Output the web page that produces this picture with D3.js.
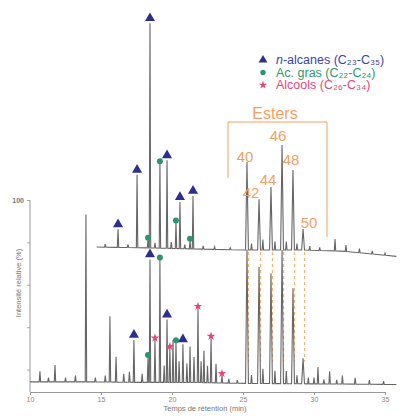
<!DOCTYPE html>
<html>
<head>
<meta charset="utf-8">
<script src="https://cdn.jsdelivr.net/npm/d3@7"></script>
<style>
  body { margin: 0; background: #fff; }
  text { font-family: "Liberation Sans", Arial, sans-serif; }
</style>
</head>
<body>
<div id="chart"></div>
<script>
// chromatogram, two traces (upper = sample, lower = reference)

// x ticks (min)
var timeTicks = [10, 15, 20, 25, 30, 35];
var intensityTicks = [20, 40, 60, 80, 100];

// baselines [time, level]
var upperBase = [[14.7, 77.8], [18.4, 77.4], [25, 76.4], [29.2, 76.4], [32, 75.9], [35.8, 73.4]];
var lowerBase = [[10, 14.2], [15, 14.2], [17, 14.0], [22, 13.9], [25, 13.5], [35.8, 13.0]];

// peaks [time, height, type, halfwidth]
var upperPeaks = [
  [15.3, 1.5, ""], [16.2, 8.5, "alk"], [16.9, 1.5, ""], [17.54, 34.4, "alk"],
  [18.31, 3.8, "acid"], [18.45, 106, "alk"], [18.8, 2.5, ""], [19.15, 40, "acid"],
  [19.65, 41.5, "alk"], [19.95, 3, ""], [20.28, 12.3, "acid"], [20.56, 22, "alk"],
  [20.9, 2, ""], [21.27, 3.8, "acid"], [21.48, 25, "alk"], [22.2, 1.5, ""],
  [23, 1.2, ""], [24.1, 1, ""],
  [25.28, 41.5, "ester", 0.1], [25.6, 3, ""], [26.13, 24, "ester", 0.1], [26.4, 5, ""],
  [26.97, 29.7, "ester", 0.1], [27.25, 4, ""], [27.75, 49.5, "ester", 0.1], [28.05, 4, ""],
  [28.52, 37.7, "ester", 0.1], [28.8, 3, ""], [29.23, 9.9, "ester", 0.1], [29.7, 2, ""],
  [30.4, 1.5, ""], [31.48, 5.6, ""], [32.25, 3, ""], [33.2, 2, ""], [34.1, 1.5, ""], [35, 1, ""]
];

var lowerPeaks = [
  [10.7, 5, ""], [11.3, 2, ""], [11.76, 8, ""], [12.5, 2, ""], [13.2, 3, ""],
  [13.94, 79, ""], [14.6, 2, ""], [15.3, 3, ""], [15.63, 31, ""], [16.06, 12, ""],
  [16.6, 4, ""], [17.0, 5, ""], [17.32, 20, "alk"], [17.9, 4, ""], [18.31, 12, "acid"],
  [18.45, 58, "alk"], [18.8, 20, "alc"], [19.15, 58, "acid"], [19.45, 8, ""],
  [19.65, 29.7, "alk"], [19.85, 16, "alc"], [20.07, 20, ""], [20.28, 19, "acid"],
  [20.5, 10, ""], [20.77, 18, "alk"], [21.05, 9, ""], [21.27, 17, ""], [21.55, 12, ""],
  [21.83, 35, "alc"], [22.05, 10, ""], [22.25, 15, ""], [22.5, 8, ""], [22.75, 21, "alc"],
  [23.1, 9, ""], [23.52, 3.5, "alc"], [24.0, 2, ""], [24.6, 1.5, ""],
  [25.28, 63, "ester", 0.1], [25.6, 4, ""], [26.13, 55, "ester", 0.1], [26.4, 7, ""],
  [26.97, 52, "ester", 0.1], [27.25, 6, ""], [27.75, 63, "ester", 0.1], [28.05, 6, ""],
  [28.52, 45, "ester", 0.1], [28.8, 4, ""], [29.23, 12, "ester", 0.1], [29.6, 3, ""],
  [30.0, 3, ""], [30.28, 8, ""], [30.7, 2, ""], [31.1, 6, ""], [31.6, 2, ""],
  [32.0, 4, ""], [32.9, 3, ""], [33.9, 2, ""], [34.9, 1.5, ""]
];

// ester labels: carbon number and label position
var esterNames = ["40", "42", "44", "46", "48", "50"];
var esterLabelPos = [[245, 162], [251, 198], [268, 185], [278, 141], [291, 165], [309, 228]];

var legendItems = [
  {type: "alk", it: "n", label: "-alcanes (C₂₃-C₃₅)"},
  {type: "acid", it: "", label: "Ac. gras (C₂₂-C₂₄)"},
  {type: "alc", it: "", label: "Alcools (C₂₆-C₃₄)"}
];

var colors = {alk: "#2c2f8c", acid: "#2e9470", alc: "#e5457a", ester: "#f2a164", trace: "#666"};
var textColors = {alk: "#3a44a8", acid: "#2e9a6e", alc: "#e8457a"};

var W = 401, H = 416;
var svg = d3.select("#chart").append("svg").attr("width", W).attr("height", H);

var xScale = d3.scaleLinear().domain([10, 35]).range([30, 385]);
var yScale = d3.scaleLinear().domain([0, 100]).range([412, 200]);

function baseScale(arr) {
  return d3.scaleLinear().domain(arr.map(function(d) { return d[0]; }))
    .range(arr.map(function(d) { return d[1]; })).clamp(true);
}
var upB = baseScale(upperBase), loB = baseScale(lowerBase);

function tracePoints(peaks, base, t0, t1) {
  var pts = [[t0, base(t0)]];
  peaks.slice().sort(function(a, b) { return a[0] - b[0]; }).forEach(function(p) {
    var w = p[3] || 0.05;
    pts.push([p[0] - w, base(p[0] - w)], [p[0], base(p[0]) + p[1]], [p[0] + w, base(p[0] + w)]);
  });
  pts.push([t1, base(t1)]);
  return pts;
}

var line = d3.line()
  .x(function(d) { return xScale(d[0]); })
  .y(function(d) { return yScale(d[1]); });

// axes
var xAxis = d3.axisBottom(xScale).tickValues(timeTicks).tickSize(3).tickPadding(2);
var gx = svg.append("g").attr("transform", "translate(0,392)").call(xAxis);
gx.select(".domain").attr("stroke", "#999");
gx.selectAll(".tick line").attr("stroke", "#999");
gx.selectAll("text").attr("font-size", 7).attr("fill", "#888");

var yAxis = d3.axisLeft(yScale).tickValues(intensityTicks).tickSize(3)
  .tickFormat(function(d) { return d === 100 ? "100" : ""; });
var gy = svg.append("g").attr("transform", "translate(30,0)").call(yAxis);
gy.select(".domain").remove();
gy.selectAll(".tick line").attr("stroke", "#aaa");
gy.selectAll("text").attr("font-size", 7).attr("fill", "#777").attr("font-weight", "bold");
svg.append("line").attr("x1", 30).attr("x2", 30).attr("y1", yScale(100)).attr("y2", 392)
  .attr("stroke", "#999");

svg.append("text").attr("x", 205).attr("y", 411).attr("text-anchor", "middle")
  .attr("font-size", 7.5).attr("fill", "#777").text("Temps de rétention (min)");
svg.append("text").attr("transform", "translate(21,283) rotate(-90)").attr("text-anchor", "middle")
  .attr("font-size", 7.5).attr("fill", "#777").text("Intensité relative (%)");

// dashed ester guides
var esters = upperPeaks.filter(function(p) { return p[2] === "ester"; });
svg.selectAll("line.guide").data(esters).enter().append("line")
  .attr("class", "guide")
  .attr("x1", function(d) { return xScale(d[0]) + 1.5; })
  .attr("x2", function(d) { return xScale(d[0]) + 1.5; })
  .attr("y1", function(d) { return yScale(upB(d[0])) + 2; })
  .attr("y2", function(d) { return yScale(loB(d[0])) - 22; })
  .attr("stroke", "#f5b07a").attr("stroke-width", 1.2).attr("stroke-dasharray", "3,3");

// traces
svg.append("path").datum(tracePoints(lowerPeaks, loB, 10, 35.8))
  .attr("d", line).attr("fill", "none").attr("stroke", colors.trace).attr("stroke-width", 1.1);
svg.append("path").datum(tracePoints(upperPeaks, upB, 14.7, 35.8))
  .attr("d", line).attr("fill", "none").attr("stroke", colors.trace).attr("stroke-width", 1.1);

// markers
function drawMarkers(peaks, base) {
  var marked = peaks.filter(function(p) { return p[2] && p[2] !== "ester"; });
  svg.selectAll(null).data(marked).enter().append("path")
    .attr("transform", function(d) {
      var off = d[2] === "alk" ? 5 : 2;
      return "translate(" + xScale(d[0]) + "," + (yScale(base(d[0]) + d[1]) - off) + ")";
    })
    .attr("d", function(d) {
      if (d[2] === "alk") return d3.symbol(d3.symbolTriangle, 44)();
      if (d[2] === "acid") return d3.symbol(d3.symbolCircle, 28)();
      return d3.symbol(d3.symbolStar, 24)();
    })
    .attr("fill", function(d) { return colors[d[2]]; });
}
drawMarkers(upperPeaks, upB);
drawMarkers(lowerPeaks, loB);

// ester bracket and labels
svg.append("path").attr("d", "M228,178V122H327V237")
  .attr("fill", "none").attr("stroke", colors.ester).attr("stroke-width", 1);
svg.append("text").attr("x", 275).attr("y", 119).attr("text-anchor", "middle")
  .attr("font-size", 16).attr("fill", colors.ester).text("Esters");
svg.selectAll("text.ester").data(esterNames).enter().append("text")
  .attr("class", "ester")
  .attr("x", function(d, i) { return esterLabelPos[i][0]; })
  .attr("y", function(d, i) { return esterLabelPos[i][1]; })
  .attr("text-anchor", "middle").attr("font-size", 15).attr("fill", colors.ester)
  .text(function(d) { return d; });

// legend (text runs past the right edge, as in the source figure)
var lg = svg.append("g").attr("transform", "translate(263,60)");
legendItems.forEach(function(item, i) {
  var y = i * 12.5;
  lg.append("path").attr("transform", "translate(0," + y + ")")
    .attr("d", d3.symbol(item.type === "alk" ? d3.symbolTriangle : item.type === "acid" ? d3.symbolCircle : d3.symbolStar,
      item.type === "alk" ? 34 : 22)())
    .attr("fill", colors[item.type]);
  var t = lg.append("text").attr("x", 13).attr("y", y + 4).attr("font-size", 12.5)
    .attr("fill", textColors[item.type]);
  if (item.it) t.append("tspan").attr("font-style", "italic").text(item.it);
  t.append("tspan").text(item.label);
});
</script>
</body>
</html>
